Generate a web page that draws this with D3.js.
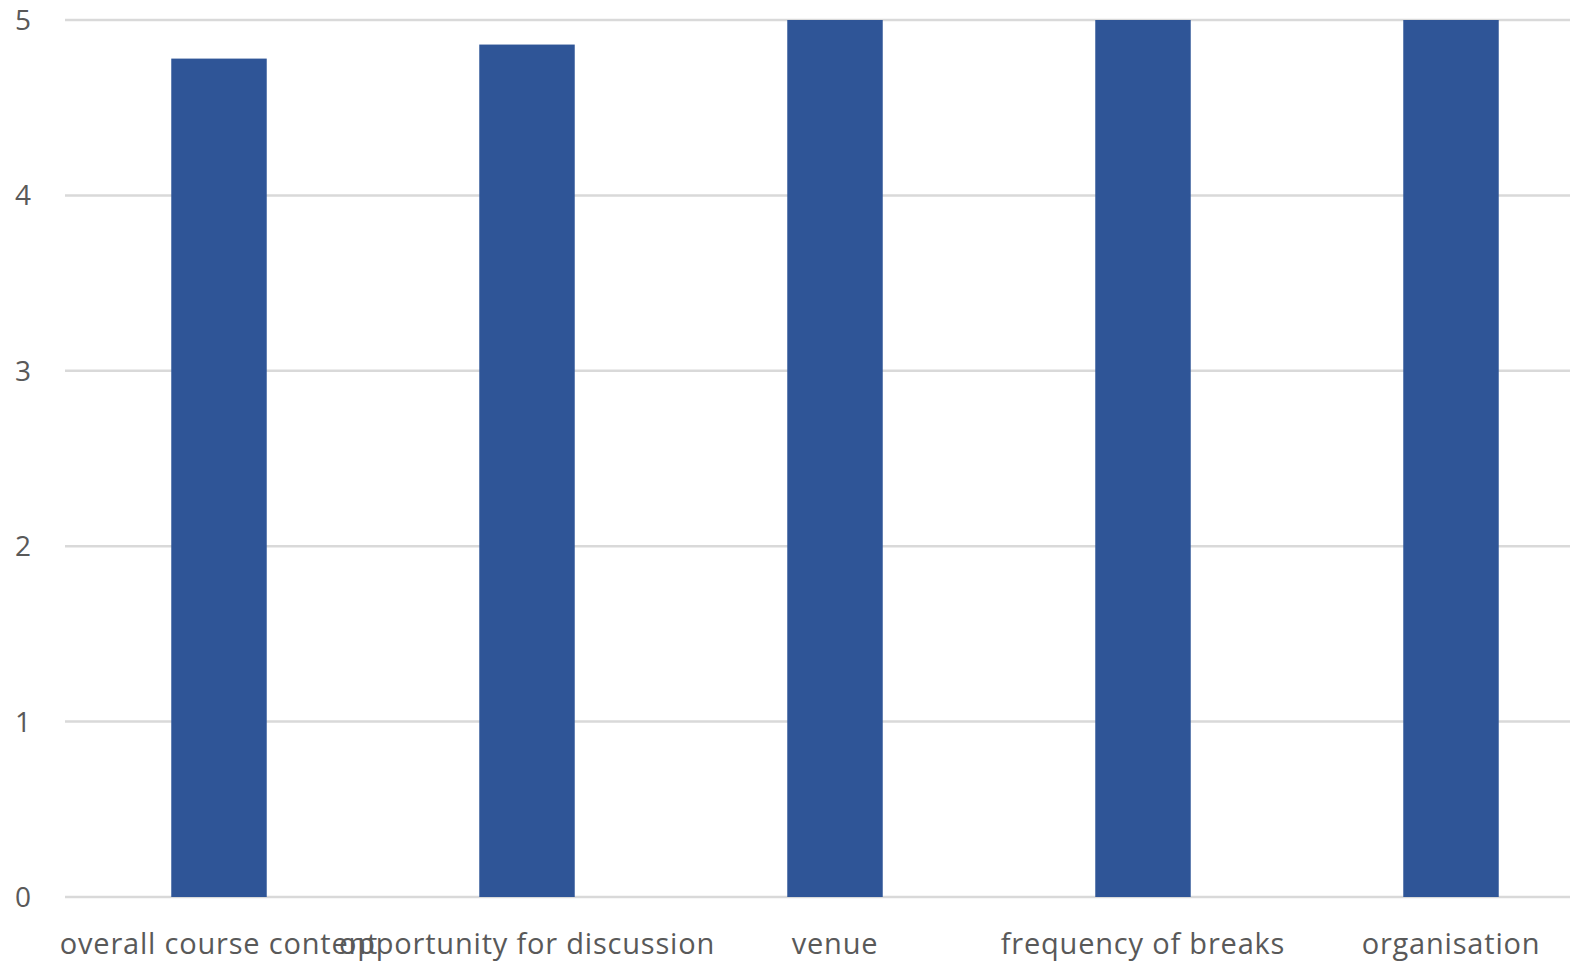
<!DOCTYPE html>
<html>
<head>
<meta charset="utf-8">
<script src="https://cdn.jsdelivr.net/npm/d3@7"></script>
<style>
  html, body { margin: 0; padding: 0; background: #fff; overflow: hidden; }
  svg { display: block; }
</style>
</head>
<body>
<svg id="chart"></svg>
<script>
/* data */
const categories = [
  "overall course content",
  "opportunity for discussion",
  "venue",
  "frequency of breaks",
  "organisation"
];
const scores = [4.78, 4.86, 5, 5, 5];
const yTicks = [0, 1, 2, 3, 4, 5];

const W = 1570, H = 963;
const plot = { left: 65, right: 1605, top: 20, bottom: 897 };

const svg = d3.select("#chart").attr("width", W).attr("height", H);

const x = d3.scaleBand()
  .domain(categories)
  .range([plot.left, plot.right])
  .paddingInner(0.69)
  .paddingOuter(0.345);

const y = d3.scaleLinear()
  .domain([0, 5])
  .range([plot.bottom, plot.top]);

// gridlines
svg.append("g")
  .selectAll("line")
  .data(yTicks)
  .join("line")
  .attr("x1", plot.left)
  .attr("x2", plot.right)
  .attr("y1", (d) => y(d))
  .attr("y2", (d) => y(d))
  .attr("stroke", "#d9d9d9")
  .attr("stroke-width", 2.5);

// bars
svg.append("g")
  .selectAll("rect")
  .data(scores)
  .join("rect")
  .attr("x", (d, i) => x(categories[i]))
  .attr("width", x.bandwidth())
  .attr("y", (d) => y(d))
  .attr("height", (d) => y(0) - y(d))
  .attr("fill", "#2f5597");

// y tick labels
svg.append("g")
  .selectAll("text")
  .data(yTicks)
  .join("text")
  .attr("x", 31)
  .attr("y", (d) => y(d))
  .attr("dy", "0.36em")
  .attr("text-anchor", "end")
  .attr("font-family", "Open Sans, sans-serif")
  .attr("font-size", 28)
  .attr("fill", "#595959")
  .text((d) => d);

// category labels
svg.append("g")
  .selectAll("text")
  .data(categories)
  .join("text")
  .attr("x", (d) => x(d) + x.bandwidth() / 2)
  .attr("y", 944)
  .attr("dy", "0.36em")
  .attr("text-anchor", "middle")
  .attr("font-family", "Open Sans, sans-serif")
  .attr("font-size", 29)
  .attr("letter-spacing", 0.8)
  .attr("fill", "#595959")
  .text((d) => d);
</script>
</body>
</html>
